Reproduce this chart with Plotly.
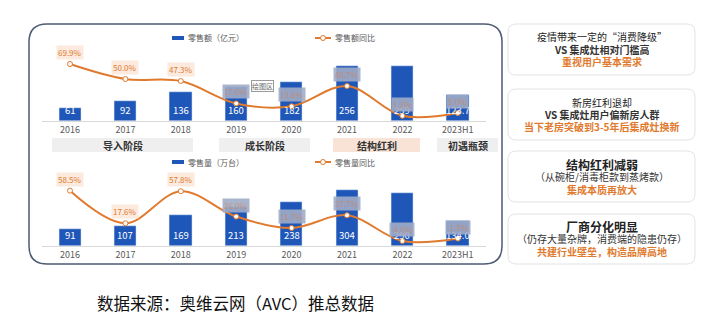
import plotly.graph_objects as go

W, H = 720, 324
FONT = "Noto Sans CJK SC"

years = ["2016", "2017", "2018", "2019", "2020", "2021", "2022", "2023H1"]
sales_value = [61, 92, 136, 160, 182, 256, 259, 123.7]
sales_value_yoy = [69.9, 50.0, 47.3, 17.6, 13.8, 40.7, 1.2, 5.0]
sales_volume = [91, 107, 169, 213, 238, 304, 290, 134.0]
sales_volume_yoy = [58.5, 17.6, 57.8, 26.0, 11.7, 27.7, -4.6, -1.5]
value_labels = ["61", "92", "136", "160", "182", "256", "259", "123.7"]
volume_labels = ["91", "107", "169", "213", "238", "304", "290", "134.0"]

stages = ["导入阶段", "成长阶段", "结构红利", "初遇瓶颈"]
notes = [
    ["疫情带来一定的“消费降级”", "VS 集成灶相对门槛高", "重视用户基本需求"],
    ["新房红利退却", "VS 集成灶用户偏新房人群", "当下老房突破到3-5年后集成灶换新"],
    ["结构红利减弱", "（从碗柜/消毒柜款到蒸烤款）", "集成本质再放大"],
    ["厂商分化明显", "（仍存大量杂牌，消费端的隐患仍存）", "共建行业壁垒，构造品牌高地"],
]
source_text = "数据来源：奥维云网（AVC）推总数据"

BLUE = "#1F57B8"
ORANGE = "#E07A2E"


def px(x):
    return x / W


def py(y):
    return 1 - y / H


fig = go.Figure()

xdom = [px(42.3), px(485.5)]
top_dom = [py(121), py(30)]
bot_dom = [py(246), py(170)]

fig.add_trace(go.Bar(x=years, y=sales_value, marker_color=BLUE, width=0.4,
                     xaxis="x", yaxis="y", showlegend=False))
fig.add_trace(go.Scatter(x=years, y=sales_value_yoy, mode="lines+markers",
                         line=dict(color=ORANGE, width=2, shape="spline", smoothing=1.0),
                         marker=dict(color="white", size=5, line=dict(color=ORANGE, width=1)),
                         xaxis="x", yaxis="y2", showlegend=False))
fig.add_trace(go.Bar(x=years, y=sales_volume, marker_color=BLUE, width=0.4,
                     xaxis="x3", yaxis="y3", showlegend=False))
fig.add_trace(go.Scatter(x=years, y=sales_volume_yoy, mode="lines+markers",
                         line=dict(color=ORANGE, width=2, shape="spline", smoothing=1.0),
                         marker=dict(color="white", size=5, line=dict(color=ORANGE, width=1)),
                         xaxis="x3", yaxis="y4", showlegend=False))

xcommon = dict(type="category", domain=xdom, range=[-0.5, 7.5], showgrid=False, zeroline=False,
               showline=True, linecolor="#d9d9d9", linewidth=1, ticks="",
               tickfont=dict(family=FONT, size=9, color="#595959"), fixedrange=True)
fig.update_layout(
    width=W, height=H, margin=dict(l=0, r=0, t=0, b=0),
    paper_bgcolor="white", plot_bgcolor="rgba(0,0,0,0)",
    bargap=0, showlegend=False,
    xaxis=dict(anchor="y", **xcommon),
    yaxis=dict(domain=top_dom, range=[0, 427], visible=False),
    yaxis2=dict(domain=top_dom, range=[-5.7, 115], overlaying="y", visible=False),
    xaxis3=dict(anchor="y3", **xcommon),
    yaxis3=dict(domain=bot_dom, range=[0, 413], visible=False),
    yaxis4=dict(domain=bot_dom, range=[-10.9, 84.4], overlaying="y3", visible=False),
)

ann = []
shapes = []

# value labels inside bars
for xr, yr, labels in [("x", "y", value_labels), ("x3", "y3", volume_labels)]:
    for i, lab in enumerate(labels):
        ann.append(dict(x=i, y=0, xref=xr, yref=yr, text=lab, showarrow=False,
                        xanchor="center", yanchor="bottom", yshift=2,
                        font=dict(family=FONT, size=9.5, color="white")))

# yoy labels
for xr, yr, vals in [("x", "y2", sales_value_yoy), ("x3", "y4", sales_volume_yoy)]:
    for i, v in enumerate(vals):
        covered = i >= 3
        ann.append(dict(x=i, y=v, xref=xr, yref=yr, text=f"{v:.1f}%", showarrow=False,
                        xanchor="center", yanchor="bottom", yshift=4,
                        bgcolor="rgba(160,172,200,0.9)" if covered else "rgba(252,230,216,0.85)",
                        borderpad=1,
                        font=dict(family=FONT, size=8,
                                  color="rgba(224,122,46,0.55)" if covered else ORANGE)))


def rounded(x0, y0, x1, y1, r):
    p = [
        f"M {px(x0 + r)},{py(y0)}",
        f"L {px(x1 - r)},{py(y0)}",
        f"Q {px(x1)},{py(y0)} {px(x1)},{py(y0 + r)}",
        f"L {px(x1)},{py(y1 - r)}",
        f"Q {px(x1)},{py(y1)} {px(x1 - r)},{py(y1)}",
        f"L {px(x0 + r)},{py(y1)}",
        f"Q {px(x0)},{py(y1)} {px(x0)},{py(y1 - r)}",
        f"L {px(x0)},{py(y0 + r)}",
        f"Q {px(x0)},{py(y0)} {px(x0 + r)},{py(y0)}",
        "Z",
    ]
    return " ".join(p)


def txt(x, y, t, size, color, anchor="center"):
    return dict(x=px(x), y=py(y), xref="paper", yref="paper", text=t, showarrow=False,
                xanchor=anchor, yanchor="middle", font=dict(family=FONT, size=size, color=color))


shapes.append(dict(type="path", xref="paper", yref="paper", path=rounded(29, 24, 502, 264, 18),
                   line=dict(color="#4D5B73", width=1.5), fillcolor="rgba(0,0,0,0)", layer="below"))

# stage boxes
stage_boxes = [(52, 193, "#EFEFEF"), (219, 310, "#EFEFEF"), (333, 420, "#F8E3D6"), (437, 498, "#EFEFEF")]
for (x0, x1, col), name in zip(stage_boxes, stages):
    shapes.append(dict(type="rect", xref="paper", yref="paper", x0=px(x0), x1=px(x1),
                       y0=py(152), y1=py(138), fillcolor=col, line=dict(width=0), layer="below"))
    ann.append(txt((x0 + x1) / 2, 145, f"<b>{name}</b>", 10, "#333333"))

# legends
for ly, t1, t2 in [(38, "零售额（亿元）", "零售额同比"), (162, "零售量（万台）", "零售量同比")]:
    shapes.append(dict(type="rect", xref="paper", yref="paper", x0=px(172), x1=px(184),
                       y0=py(ly + 2), y1=py(ly - 2), fillcolor=BLUE, line=dict(width=0)))
    ann.append(txt(186, ly, t1, 8, "#595959", "left"))
    shapes.append(dict(type="line", xref="paper", yref="paper", x0=px(315), x1=px(331),
                       y0=py(ly), y1=py(ly), line=dict(color=ORANGE, width=2)))
    shapes.append(dict(type="circle", xref="paper", yref="paper", x0=px(320.5), x1=px(325.5),
                       y0=py(ly + 2.5), y1=py(ly - 2.5), fillcolor="white", line=dict(color=ORANGE, width=1)))
    ann.append(txt(333, ly, t2, 8, "#595959", "left"))

# small "绘图区" tag
tag = txt(262, 86, "绘图区", 7, "#666666")
tag.update(bgcolor="white", bordercolor="#9a9a9a", borderwidth=1, borderpad=0)
ann.append(tag)

# right panels
panels = [(24, 75), (89, 140), (151, 202), (214, 264)]
for i, ((y0, y1), lines) in enumerate(zip(panels, notes)):
    shapes.append(dict(type="path", xref="paper", yref="paper", path=rounded(508, y0, 695, y1, 8),
                       line=dict(color="#E3E3E3", width=1), fillcolor="white"))
    yc = (y0 + y1) / 2
    big = i >= 2
    ys = [yc - 12.5, yc, yc + 12.5]
    texts = [
        (f"<b>{lines[0]}</b>" if big else lines[0], 12 if big else 10, "#222222"),
        (lines[1] if big else f"<b>{lines[1]}</b>", 10, "#333333"),
        (f"<b>{lines[2]}</b>", 10, ORANGE),
    ]
    for yy, (t, s, c) in zip(ys, texts):
        ann.append(txt(601.5, yy, t, s, c))

# source
ann.append(txt(95, 303, source_text, 16.5, "#111111", "left"))

fig.update_layout(annotations=ann, shapes=shapes)
fig.write_html("out.html")
